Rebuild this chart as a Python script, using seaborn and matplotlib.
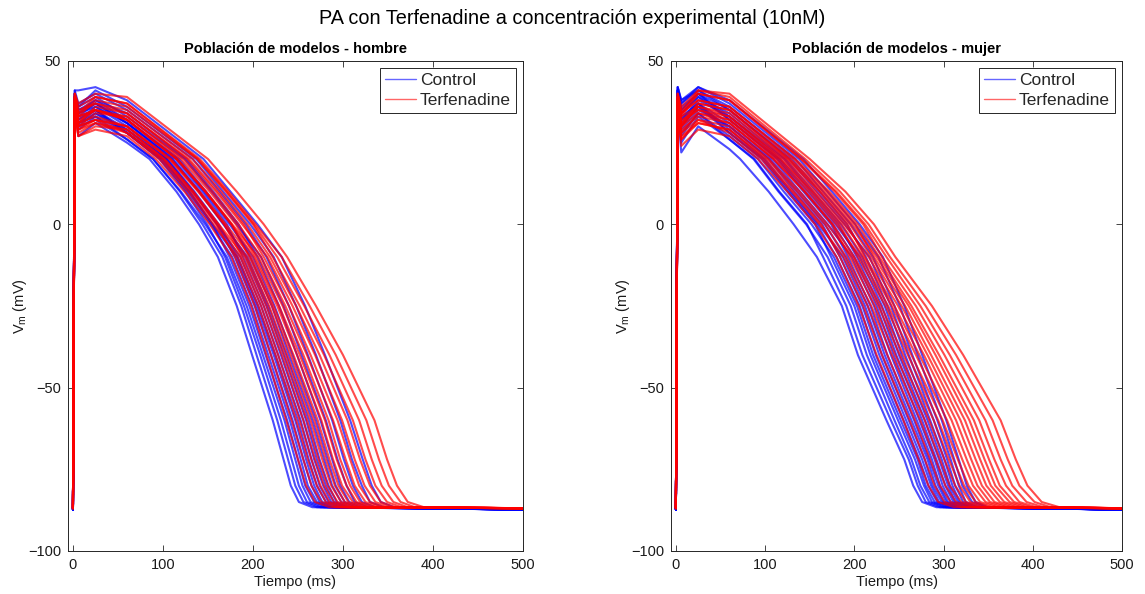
import matplotlib
matplotlib.use('Agg')
import matplotlib.pyplot as plt
import seaborn as sns
import pandas as pd
from matplotlib.lines import Line2D

# ---------------- text ----------------
titulo = 'PA con Terfenadine a concentración experimental (10nM)'
paneles = ['Población de modelos - hombre', 'Población de modelos - mujer']
condiciones = ['Control', 'Terfenadine']
colores = {'Control': '#0000ff', 'Terfenadine': '#ff0000'}
x_label = 'Tiempo (ms)'
y_label = r'V$_\mathregular{m}$ (mV)'
x_ticks = [0, 100, 200, 300, 400, 500]
y_ticks = [-100, -50, 0, 50]

# ---------------- data ----------------
# resting potential per condition (mV)
V_reposo = {'Control': -87.3, 'Terfenadine': -86.9}
# sample times (ms) of the first four columns: spike, notch, dome, V at 60 ms
t_fijos = [2, 6, 25, 60]
# voltage levels (mV) whose crossing times (ms) fill the remaining columns
niveles_mV = [20, 10, 0, -10, -25, -40, -60, -72, -80, -85, -86.6]

# columns: V(2) V(6) V(25) V(60) | t(20) t(10) t(0) t(-10) t(-25) t(-40) t(-60) t(-72) t(-80) t(-85) t(-86.6)
hombre_control = [
    [36, 27, 31, 25, 85, 115, 140, 161, 182, 199, 222, 234, 242, 251, 266],
    [38, 30, 32, 26, 89, 119, 144, 166, 187, 204, 227, 239, 247, 256, 271],
    [37, 31, 33, 28, 96, 125, 149, 169, 190, 208, 231, 243, 251, 260, 275],
    [38, 29, 33, 26, 89, 120, 147, 171, 193, 211, 235, 247, 255, 264, 279],
    [36, 31, 34, 28, 100, 130, 155, 174, 196, 214, 238, 250, 258, 268, 283],
    [39, 33, 35, 28, 97, 127, 153, 177, 199, 217, 241, 253, 261, 271, 286],
    [37, 30, 34, 29, 104, 134, 160, 180, 202, 220, 244, 256, 265, 274, 289],
    [39, 32, 35, 28, 99, 129, 155, 182, 204, 223, 247, 259, 268, 277, 293],
    [38, 34, 36, 30, 105, 135, 162, 183, 206, 225, 250, 262, 271, 281, 296],
    [37, 31, 35, 29, 103, 133, 160, 186, 209, 228, 253, 265, 274, 284, 299],
    [40, 35, 37, 31, 114, 144, 171, 189, 212, 231, 256, 268, 278, 287, 302],
    [38, 32, 36, 31, 111, 141, 168, 192, 215, 234, 259, 271, 281, 290, 305],
    [39, 34, 37, 31, 110, 140, 167, 194, 217, 237, 262, 274, 284, 293, 308],
    [38, 33, 37, 32, 118, 148, 176, 197, 221, 240, 266, 279, 288, 298, 313],
    [40, 35, 38, 32, 116, 146, 174, 200, 224, 244, 270, 283, 292, 302, 317],
    [39, 34, 38, 34, 126, 156, 184, 205, 229, 249, 275, 288, 297, 307, 322],
    [40, 36, 39, 33, 124, 154, 182, 209, 234, 254, 281, 294, 304, 313, 329],
    [41, 37, 40, 35, 133, 163, 192, 215, 240, 261, 288, 301, 311, 321, 336],
    [40, 36, 41, 36, 137, 167, 197, 223, 248, 270, 297, 310, 321, 330, 346],
    [41, 41, 42, 38, 145, 175, 205, 232, 258, 280, 308, 322, 332, 342, 357],
]
hombre_terfenadine = [
    [34, 27, 29, 27, 92, 124, 152, 176, 198, 215, 237, 250, 259, 269, 285],
    [36, 29, 31, 28, 99, 131, 159, 180, 202, 220, 243, 256, 265, 276, 292],
    [37, 30, 32, 28, 96, 128, 156, 183, 206, 225, 248, 261, 271, 281, 297],
    [35, 28, 31, 29, 101, 133, 161, 186, 209, 228, 252, 265, 275, 285, 302],
    [38, 31, 33, 30, 107, 139, 168, 188, 212, 232, 256, 269, 279, 290, 306],
    [35, 27, 30, 29, 102, 134, 162, 191, 215, 235, 260, 273, 283, 294, 310],
    [37, 30, 32, 30, 108, 140, 168, 193, 218, 238, 264, 277, 287, 298, 314],
    [39, 33, 35, 32, 115, 147, 176, 196, 221, 242, 268, 281, 291, 302, 318],
    [36, 29, 32, 30, 109, 141, 170, 198, 223, 245, 272, 285, 295, 306, 323],
    [38, 32, 35, 32, 115, 147, 176, 201, 227, 249, 276, 289, 299, 311, 327],
    [37, 30, 34, 33, 120, 152, 181, 203, 229, 252, 280, 293, 304, 315, 331],
    [39, 33, 35, 32, 116, 148, 177, 206, 233, 256, 284, 297, 308, 319, 336],
    [37, 31, 35, 33, 123, 155, 184, 209, 236, 260, 289, 303, 313, 325, 341],
    [39, 34, 37, 34, 129, 161, 190, 212, 240, 264, 294, 308, 318, 330, 346],
    [37, 31, 36, 34, 127, 159, 188, 216, 244, 269, 299, 313, 324, 336, 352],
    [40, 35, 37, 35, 133, 165, 194, 219, 248, 274, 305, 319, 330, 342, 358],
    [38, 33, 38, 36, 138, 170, 200, 222, 252, 279, 311, 325, 336, 349, 365],
    [40, 36, 39, 37, 139, 171, 201, 227, 257, 285, 318, 332, 343, 356, 372],
    [39, 34, 39, 37, 141, 173, 203, 232, 263, 292, 326, 340, 351, 364, 380],
    [40, 37, 40, 39, 150, 182, 212, 238, 270, 300, 335, 349, 360, 372, 390],
]
mujer_control = [
    [36, 22, 30, 23, 72, 104, 132, 158, 186, 204, 236, 256, 266, 276, 292],
    [38, 25, 33, 26, 88, 116, 147, 165, 191, 209, 241, 261, 271, 280, 296],
    [37, 28, 34, 26, 87, 115, 146, 170, 196, 214, 245, 264, 274, 284, 300],
    [39, 30, 36, 28, 96, 125, 156, 174, 200, 218, 249, 268, 278, 287, 303],
    [36, 27, 34, 27, 92, 121, 152, 177, 203, 221, 252, 271, 280, 290, 306],
    [40, 32, 37, 28, 98, 127, 158, 180, 206, 224, 255, 273, 283, 293, 309],
    [38, 30, 36, 30, 104, 133, 164, 184, 209, 228, 258, 276, 286, 295, 311],
    [40, 33, 37, 29, 100, 129, 160, 187, 212, 231, 261, 279, 288, 298, 314],
    [37, 29, 35, 30, 106, 136, 167, 190, 215, 234, 264, 282, 291, 300, 316],
    [41, 34, 39, 32, 113, 143, 174, 193, 218, 237, 267, 284, 294, 303, 319],
    [39, 31, 37, 31, 109, 139, 170, 197, 222, 241, 270, 287, 296, 305, 321],
    [41, 35, 40, 32, 115, 145, 176, 200, 225, 244, 273, 290, 299, 308, 324],
    [39, 32, 38, 33, 121, 151, 182, 203, 228, 247, 276, 292, 302, 311, 327],
    [41, 36, 40, 33, 117, 148, 179, 206, 231, 250, 279, 295, 305, 313, 329],
    [40, 34, 39, 34, 123, 154, 185, 209, 234, 253, 282, 298, 307, 316, 332],
    [42, 37, 41, 35, 130, 161, 192, 213, 237, 257, 285, 301, 310, 318, 334],
    [41, 35, 40, 35, 127, 158, 189, 217, 241, 261, 289, 304, 313, 322, 338],
    [42, 38, 41, 36, 134, 165, 196, 221, 245, 265, 293, 308, 317, 325, 341],
    [41, 37, 42, 37, 138, 170, 201, 227, 251, 271, 298, 312, 321, 332, 346],
    [42, 38, 42, 38, 143, 175, 206, 232, 256, 276, 303, 317, 326, 336, 350],
]
mujer_terfenadine = [
    [35, 24, 29, 27, 92, 125, 156, 180, 205, 225, 255, 272, 283, 294, 312],
    [37, 27, 31, 29, 99, 132, 163, 184, 210, 231, 262, 279, 290, 301, 320],
    [36, 28, 32, 28, 96, 130, 161, 188, 215, 237, 268, 285, 296, 308, 326],
    [36, 26, 31, 29, 102, 136, 167, 191, 219, 242, 274, 291, 302, 314, 333],
    [38, 30, 34, 31, 109, 144, 175, 195, 223, 246, 279, 296, 307, 320, 338],
    [35, 26, 32, 30, 104, 139, 170, 198, 227, 251, 284, 301, 313, 325, 343],
    [37, 29, 33, 31, 110, 145, 176, 200, 230, 255, 289, 306, 318, 330, 349],
    [39, 32, 35, 32, 116, 152, 183, 204, 235, 260, 294, 311, 323, 336, 354],
    [36, 28, 34, 32, 113, 149, 180, 207, 238, 264, 299, 316, 328, 341, 360],
    [38, 31, 35, 33, 118, 154, 186, 210, 242, 269, 304, 321, 333, 347, 365],
    [37, 30, 36, 34, 124, 161, 192, 212, 245, 273, 309, 326, 338, 352, 371],
    [39, 33, 36, 33, 121, 157, 189, 216, 249, 278, 314, 331, 343, 357, 376],
    [37, 30, 37, 35, 126, 163, 195, 219, 253, 282, 319, 336, 348, 363, 381],
    [39, 34, 38, 36, 132, 169, 201, 222, 257, 286, 324, 341, 353, 368, 387],
    [38, 31, 37, 35, 128, 166, 198, 225, 261, 291, 329, 346, 358, 374, 392],
    [40, 34, 38, 36, 134, 172, 204, 228, 264, 295, 334, 351, 363, 379, 398],
    [39, 33, 40, 38, 140, 178, 210, 231, 269, 301, 340, 357, 370, 385, 404],
    [40, 35, 40, 38, 141, 180, 212, 236, 274, 307, 347, 364, 377, 393, 412],
    [39, 34, 41, 39, 145, 184, 216, 240, 280, 314, 355, 372, 385, 402, 420],
    [40, 36, 41, 40, 150, 190, 222, 246, 287, 322, 364, 381, 394, 410, 430],
]

datos = {
    paneles[0]: {'Control': hombre_control, 'Terfenadine': hombre_terfenadine},
    paneles[1]: {'Control': mujer_control, 'Terfenadine': mujer_terfenadine},
}


def tabla(panel):
    recs = []
    for cond in condiciones:
        for i, f in enumerate(datos[panel][cond]):
            ts = [0] + t_fijos + list(f[4:]) + [x_ticks[-1]]
            vs = [V_reposo[cond]] + list(f[:4]) + niveles_mV + [V_reposo[cond]]
            for t, v in zip(ts, vs):
                recs.append({'cond': cond, 'curva': f'{cond}-{i}', 't': t, 'V': v})
    return pd.DataFrame(recs)


# ---------------- style ----------------
sns.set_style('ticks')
plt.rcParams['font.family'] = ['Liberation Sans', 'DejaVu Sans']
plt.rcParams['axes.edgecolor'] = '#262626'
plt.rcParams['axes.linewidth'] = 0.7

fig = plt.figure(figsize=(11.45, 5.94), dpi=100)
W, H = 1145, 594
rects = [(68, 61, 523, 551), (671, 61, 1122, 551)]

for panel, (x0, y0, x1, y1) in zip(paneles, rects):
    ax = fig.add_axes([x0 / W, 1 - y1 / H, (x1 - x0) / W, (y1 - y0) / H])
    df = tabla(panel)
    sns.lineplot(data=df, x='t', y='V', hue='cond', units='curva', estimator=None,
                 sort=False, palette=colores, hue_order=condiciones,
                 lw=1.5, alpha=0.7, legend=False, ax=ax)
    ax.set_xlim(-5.5, 500)
    ax.set_ylim(-100, 50)
    ax.set_xticks(x_ticks)
    ax.set_yticks(y_ticks)
    ax.tick_params(direction='in', top=True, right=True, length=4, width=0.6,
                   color='#262626', labelcolor='#1a1a1a', labelsize=10.5, pad=5)
    for s in ax.spines.values():
        s.set_visible(True)
        s.set_color('#262626')
        s.set_linewidth(0.7)
    ax.set_xlabel(x_label, fontsize=10.5, labelpad=2, color='#1a1a1a')
    ax.set_ylabel(y_label, fontsize=10.5, labelpad=-1, color='#1a1a1a')
    ax.set_title(panel, fontsize=10.5, fontweight='bold', pad=6, color='#000000')
    handles = [Line2D([0], [0], color=colores[c], lw=1.0, alpha=0.6) for c in condiciones]
    leg = ax.legend(handles, condiciones, loc='upper right', fontsize=12.5,
                    frameon=True, fancybox=False, edgecolor='#262626',
                    handlelength=1.8, handletextpad=0.2, borderpad=0.3,
                    labelspacing=0.25, borderaxespad=0.4, framealpha=1)
    leg.get_frame().set_linewidth(0.7)

fig.text(0.5, 1 - 19 / H, titulo, ha='center', va='center', fontsize=14.3, color='#000000')

fig.savefig('out.png', dpi=100)
